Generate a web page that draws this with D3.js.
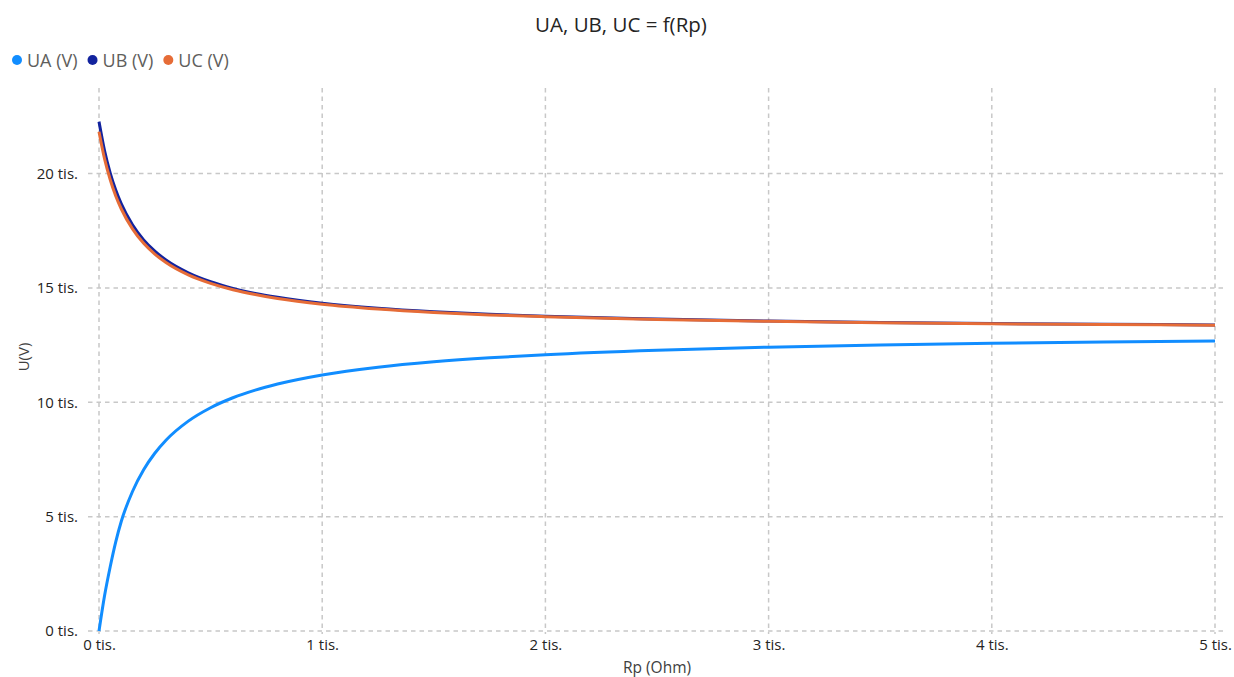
<!DOCTYPE html>
<html>
<head>
<meta charset="utf-8">
<script src="https://cdn.jsdelivr.net/npm/d3@7"></script>
<style>
  html, body { margin: 0; padding: 0; background: #fff; }
  svg { display: block; }
  text { font-family: "Open Sans", "Noto Sans", sans-serif; }
</style>
</head>
<body>
<svg id="chart" width="1234" height="677"></svg>
<script>
// Rp (Ohm)
const rp = [0, 25, 50, 75, 100, 150, 200, 250, 300, 400, 500, 600, 700, 800, 1000, 1250, 1500, 1750, 2000, 2500, 3000, 3500, 4000, 4500, 5000];
// UA (V)
const ua = [0, 1550, 2800, 3900, 4800, 6100, 7050, 7770, 8340, 9175, 9762, 10197, 10532, 10798, 11195, 11533, 11770, 11946, 12081, 12275, 12409, 12505, 12579, 12637, 12684];
// UB (V)
const ub = [22270, 20990, 20030, 19280, 18670, 17760, 17100, 16610, 16220, 15660, 15270, 14980, 14760, 14590, 14330, 14110, 13960, 13850, 13760, 13640, 13550, 13490, 13440, 13410, 13380];
// UC (V)
const uc = [21830, 20640, 19740, 19020, 18450, 17580, 16950, 16480, 16110, 15570, 15200, 14920, 14710, 14540, 14290, 14080, 13930, 13820, 13740, 13620, 13540, 13480, 13430, 13400, 13370];

const seriesNames = ["UA (V)", "UB (V)", "UC (V)"];
const seriesColors = ["#118DFF", "#12239E", "#E66C37"];
const xTicks = [0, 1000, 2000, 3000, 4000, 5000];
const xTickLabels = ["0 tis.", "1 tis.", "2 tis.", "3 tis.", "4 tis.", "5 tis."];
const yTicks = [0, 5000, 10000, 15000, 20000];
const yTickLabels = ["0 tis.", "5 tis.", "10 tis.", "15 tis.", "20 tis."];

const svg = d3.select("#chart");
const x = d3.scaleLinear().domain([0, 5000]).range([99, 1215]);
const y = d3.scaleLinear().domain([0, 23740]).range([631, 88]);

// title
svg.append("text").attr("x", 621).attr("y", 32).attr("text-anchor", "middle")
  .attr("font-size", 20.5).attr("font-weight", 500).attr("fill", "#252423").text("UA, UB, UC = f(Rp)");

// legend
let lx = 12;
seriesNames.forEach((n, i) => {
  svg.append("circle").attr("cx", lx + 5).attr("cy", 60).attr("r", 5).attr("fill", seriesColors[i]);
  const t = svg.append("text").attr("x", lx + 15).attr("y", 66.5).attr("font-size", 18)
    .attr("fill", "#605E5C").text(n);
  lx += 15 + t.node().getComputedTextLength() + 10;
});

// grid
const grid = svg.append("g").attr("stroke", "#C8C8C8").attr("stroke-width", 1.5)
  .attr("stroke-dasharray", "4.5,4").attr("fill", "none");
yTicks.forEach(v => {
  grid.append("line").attr("x1", x(0) - 11).attr("x2", x(5000) + 10)
    .attr("y1", y(v)).attr("y2", y(v));
});
xTicks.forEach(v => {
  grid.append("line").attr("x1", x(v)).attr("x2", x(v))
    .attr("y1", y(23740)).attr("y2", y(0) + 3);
});

// axes labels
const yAxis = d3.axisLeft(y).tickValues(yTicks).tickFormat((d, i) => yTickLabels[i]).tickSize(0).tickPadding(21);
const gy = svg.append("g").attr("transform", `translate(${x(0)},0)`).call(yAxis);
gy.select(".domain").remove();
gy.selectAll("text").attr("font-size", 15).attr("fill", "#252423").attr("font-family", "Open Sans, sans-serif");

const xAxis = d3.axisBottom(x).tickValues(xTicks).tickFormat((d, i) => xTickLabels[i]).tickSize(0).tickPadding(8);
const gx = svg.append("g").attr("transform", `translate(0,${y(0)})`).call(xAxis);
gx.select(".domain").remove();
gx.selectAll("text").attr("font-size", 15).attr("fill", "#252423").attr("font-family", "Open Sans, sans-serif");
// keep last label inside the chart area
gx.selectAll(".tick").each(function(d) {
  const t = d3.select(this).select("text");
  const w = t.node().getComputedTextLength();
  const over = x(d) + w / 2 - 1232;
  if (over > 0) t.attr("dx", -over);
});

svg.append("text").attr("x", 657).attr("y", 673).attr("text-anchor", "middle")
  .attr("font-size", 15.5).attr("fill", "#404040").text("Rp (Ohm)");
svg.append("text").attr("transform", "translate(29,357) rotate(-90)").attr("text-anchor", "middle")
  .attr("font-size", 15).attr("fill", "#404040").text("U(V)");

// lines
const data = [ua, ub, uc];
const line = d3.line().x((d, i) => x(rp[i])).y(d => y(d)).curve(d3.curveMonotoneX);
[0, 1, 2].forEach(i => {
  svg.append("path").datum(data[i]).attr("d", line).attr("fill", "none")
    .attr("stroke", seriesColors[i]).attr("stroke-width", 3).attr("stroke-linejoin", "round");
});
</script>
</body>
</html>
